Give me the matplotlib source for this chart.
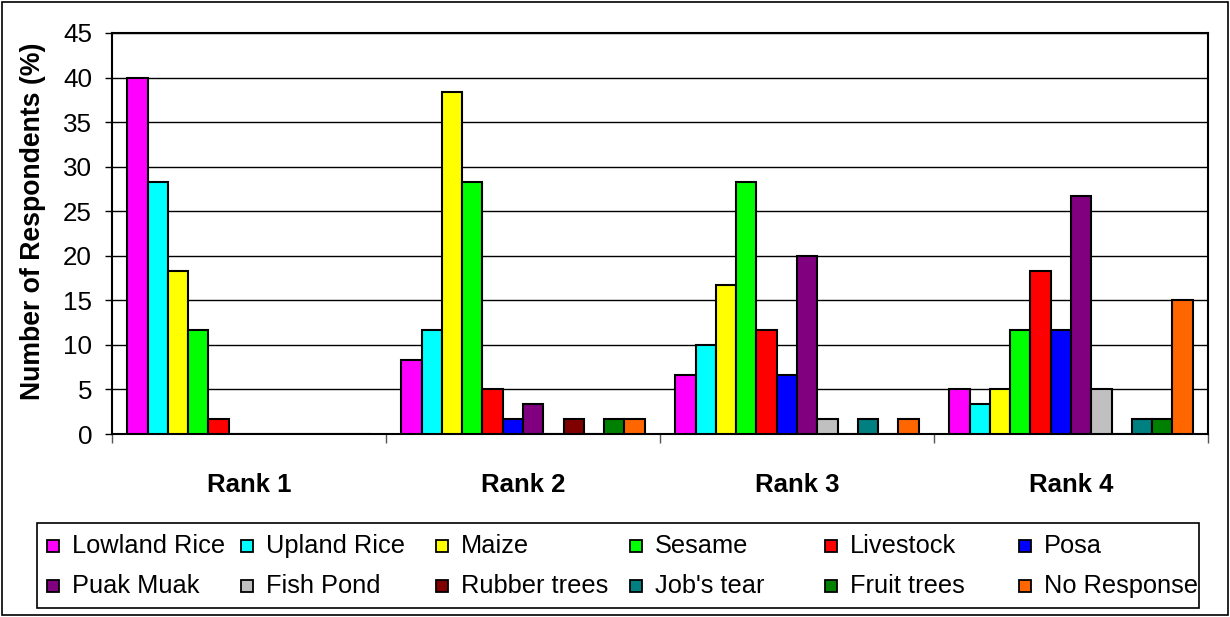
import matplotlib
matplotlib.use("Agg")
import matplotlib.pyplot as plt
import numpy as np
from matplotlib.patches import Rectangle

plt.rcParams['font.family'] = ['Liberation Sans', 'DejaVu Sans']

groups = ["Rank 1", "Rank 2", "Rank 3", "Rank 4"]
series = ["Lowland Rice", "Upland Rice", "Maize", "Sesame", "Livestock", "Posa",
          "Puak Muak", "Fish Pond", "Rubber trees", "Job's tear", "Fruit trees", "No Response"]
colors = ["#FF00FF", "#00FFFF", "#FFFF00", "#00FF00", "#FF0000", "#0000FF",
          "#800080", "#C0C0C0", "#800000", "#008080", "#008000", "#FF6600"]

lowland_rice = [40.0, 8.33, 6.67, 5.0]
upland_rice = [28.33, 11.67, 10.0, 3.33]
maize = [18.33, 38.33, 16.67, 5.0]
sesame = [11.67, 28.33, 28.33, 11.67]
livestock = [1.67, 5.0, 11.67, 18.33]
posa = [0, 1.67, 6.67, 11.67]
puak_muak = [0, 3.33, 20.0, 26.67]
fish_pond = [0, 0, 1.67, 5.0]
rubber_trees = [0, 1.67, 0, 0]
jobs_tear = [0, 0, 1.67, 1.67]
fruit_trees = [0, 1.67, 0, 1.67]
no_response = [0, 1.67, 1.67, 15.0]

values = [lowland_rice, upland_rice, maize, sesame, livestock, posa,
          puak_muak, fish_pond, rubber_trees, jobs_tear, fruit_trees, no_response]

W, H = 1230, 617
fig = plt.figure(figsize=(W / 100, H / 100), dpi=100)
ax_l, ax_r, ax_t, ax_b = 112, 1208, 33, 434
ax = fig.add_axes([ax_l / W, (H - ax_b) / H, (ax_r - ax_l) / W, (ax_b - ax_t) / H])

n = len(series)
bw = 0.074
x = np.arange(len(groups))
for i, (vals, c) in enumerate(zip(values, colors)):
    off = (i - (n - 1) / 2) * bw
    ax.bar(x + off, vals, width=bw, color=c, edgecolor='black', linewidth=1.5, zorder=3)

ax.set_xlim(-0.5, len(groups) - 0.5)
ax.set_ylim(0, 45)
ax.set_yticks(np.arange(0, 46, 5))
ax.yaxis.grid(True, color='black', linewidth=1, zorder=0)
ax.set_axisbelow(True)
ax.tick_params(axis='y', labelsize=18.7, length=5, width=1, pad=9.4, direction='out')

ax.set_xticks(np.arange(-0.5, len(groups), 1.0))
ax.set_xticklabels([])
ax.tick_params(axis='x', which='major', length=6.5, width=1, direction='out', color='#555555')
ax.set_xticks(x, minor=True)
ax.set_xticklabels(groups, minor=True, fontsize=18.5, fontweight='bold')
ax.tick_params(axis='x', which='minor', length=0, pad=28)

for s in ax.spines.values():
    s.set_color('black')
    s.set_linewidth(1.5)

ax.set_ylabel("Number of Respondents (%)", fontsize=19.2, fontweight='bold',
              va='center', rotation_mode='anchor')
ax.yaxis.set_label_coords((33 - ax_l) / (ax_r - ax_l), (ax_b - 221.5) / (ax_b - ax_t))

# legend (manual, uniform columns like the original)
lx0, lx1, ly0, ly1 = 37, 1199, 523, 608
fig.patches.append(Rectangle((lx0 / W, (H - ly1) / H), (lx1 - lx0) / W, (ly1 - ly0) / H,
                             transform=fig.transFigure, facecolor='white',
                             edgecolor='black', linewidth=1.2))
col_x = [47 + k * 194.4 for k in range(6)]
row_y = [546, 586]
sq = 12
for i, (name, c) in enumerate(zip(series, colors)):
    r, k = divmod(i, 6)
    mx, my = col_x[k], row_y[r]
    fig.patches.append(Rectangle((mx / W, (H - my - sq / 2) / H), sq / W, sq / H,
                                 transform=fig.transFigure, facecolor=c,
                                 edgecolor='black', linewidth=1.3))
    fig.text((mx + 25) / W, (H - my) / H, name, fontsize=18.3, va='center', ha='left')

# outer chart border
fig.patches.append(Rectangle((2 / W, 2 / H), (W - 4) / W, (H - 4) / H,
                             transform=fig.transFigure, facecolor='none',
                             edgecolor='black', linewidth=1.2))

fig.savefig("out.png", dpi=100)
